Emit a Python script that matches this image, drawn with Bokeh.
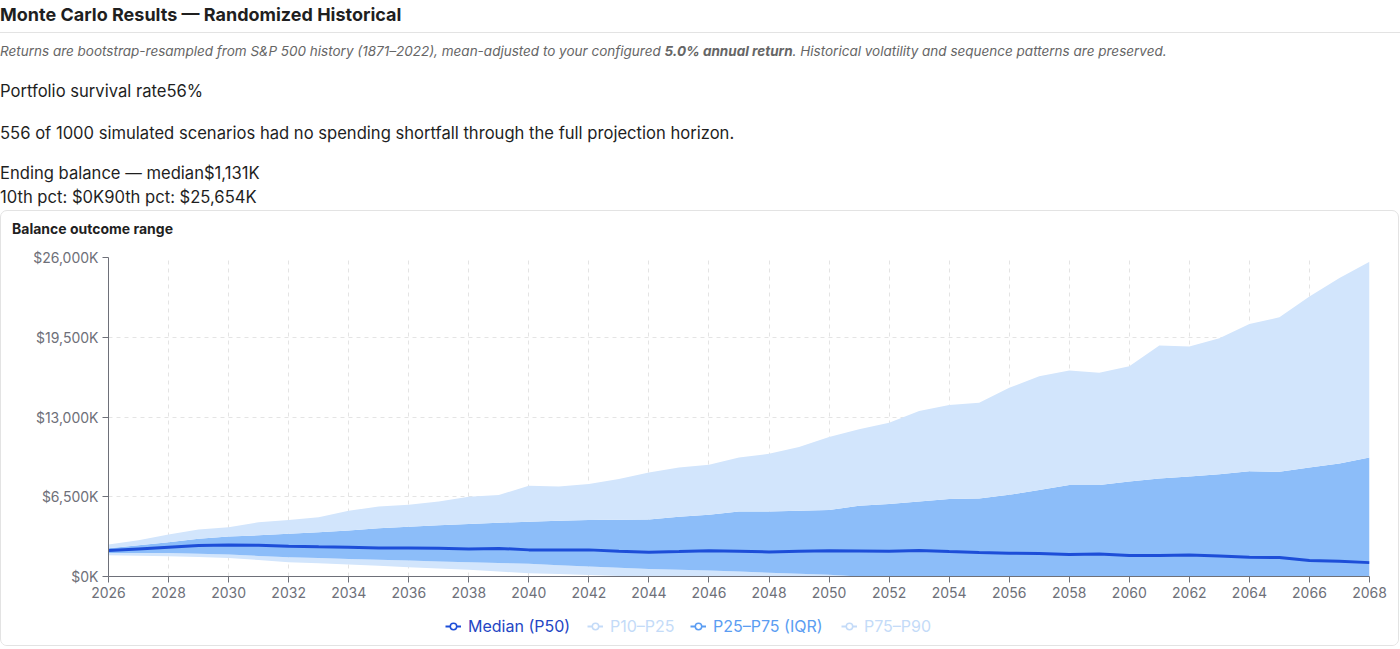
from bokeh.plotting import figure
from bokeh.models import (ColumnDataSource, Div, Legend, LegendItem,
                          FixedTicker, CustomJSTickFormatter, Range1d)
from bokeh.layouts import column
from bokeh.embed import file_html
from bokeh.resources import INLINE

# ---------------- data (values in $K) ----------------
years = list(range(2026, 2069))
p10 = [1733, 1690, 1650, 1580, 1515, 1340, 1165, 1070, 975, 870, 760, 650, 540, 400,
       270, 200, 120, 50, 0, 0, 0, 0, 0, 0, 0, 0, 0, 0, 0, 0, 0, 0, 0, 0, 0, 0, 0, 0,
       0, 0, 0, 0, 0]
p25 = [1925, 1925, 1925, 1860, 1790, 1680, 1570, 1500, 1435, 1370, 1300, 1230, 1165,
       1100, 1030, 920, 810, 715, 620, 555, 490, 400, 300, 220, 135, 0, 0, 0, 0, 0, 0,
       0, 0, 0, 0, 0, 0, 0, 0, 0, 0, 0, 0]
p50 = [2112, 2250, 2385, 2520, 2575, 2550, 2465, 2420, 2385, 2330, 2330, 2300, 2250,
       2290, 2170, 2170, 2170, 2060, 1975, 2030, 2090, 2050, 2005, 2060, 2090, 2080,
       2060, 2110, 2030, 1960, 1895, 1880, 1790, 1840, 1705, 1720, 1760, 1680, 1570,
       1545, 1300, 1245, 1131]
p75 = [2300, 2550, 2790, 3070, 3260, 3360, 3480, 3600, 3750, 3940, 4060, 4170, 4280,
       4380, 4470, 4540, 4600, 4630, 4655, 4875, 5040, 5305, 5305, 5360, 5415, 5770,
       5900, 6120, 6310, 6360, 6660, 7040, 7450, 7450, 7745, 7990, 8150, 8340, 8585,
       8530, 8880, 9200, 9695]
p90 = [2600, 2950, 3420, 3830, 4015, 4420, 4610, 4830, 5350, 5715, 5850, 6120, 6500,
       6640, 7390, 7340, 7530, 7940, 8475, 8880, 9100, 9695, 10000, 10560, 11375, 12000,
       12540, 13490, 13975, 14165, 15380, 16330, 16790, 16600, 17140, 18820, 18740,
       19420, 20580, 21125, 22830, 24320, 25654]
y_ticks = [0, 6500, 13000, 19500, 26000]
x_ticks = list(range(2026, 2069, 2))
legend_labels = ["Median (P50)", "P10\u2013P25", "P25\u2013P75 (IQR)", "P75\u2013P90"]

FONT = "Inter"
LIGHT = "#d2e5fc"
MID = "#8cbdf9"
DARK = "#1d4ed8"
AXIS = "#6e7079"

src = ColumnDataSource(dict(year=years, p10=p10, p25=p25, p50=p50, p75=p75, p90=p90))

# ---------------- header ----------------
def line(top, html, style, left=0):
    return (f'<div style="position:absolute;left:{left}px;top:{top}px;line-height:20px;'
            f'white-space:nowrap;{style}">{html}</div>')

header_html = (
    f'<div style="position:relative;width:1400px;height:210px;font-family:{FONT},sans-serif;color:#1f1f1f;">'
    + line(5, "Monte Carlo Results \u2014 Randomized Historical", "font-size:18px;font-weight:700;")
    + '<div style="position:absolute;left:0;top:32px;width:1400px;height:1px;background:#e3e3e3;"></div>'
    + line(41, 'Returns are bootstrap-resampled from S&amp;P 500 history (1871\u20132022), mean-adjusted to your configured '
               '<b>5.0% annual return</b>. Historical volatility and sequence patterns are preserved.',
           "font-size:13.5px;font-style:italic;color:#666;")
    + line(81, "Portfolio survival rate56%", "font-size:16.6px;")
    + line(123, "556 of 1000 simulated scenarios had no spending shortfall through the full projection horizon.",
           "font-size:16.6px;")
    + line(163, "Ending balance \u2014 median$1,131K", "font-size:16.6px;")
    + line(187, "10th pct: $0K90th pct: $25,654K", "font-size:16.6px;")
    + '</div>'
)
header = Div(text=header_html, width=1400, height=210, margin=(0, 0, 0, 0))

card_title = Div(
    text=(f'<div style="position:relative;width:1397px;height:36px;font-family:{FONT},sans-serif;">'
          + line(8, "Balance outcome range", "font-size:14px;font-weight:700;color:#1f1f1f;", left=11)
          + '</div>'),
    width=1397, height=36, margin=(0, 0, 0, 0))

# ---------------- chart ----------------
p = figure(width=1397, height=359, output_backend="svg", toolbar_location=None,
           x_range=Range1d(2026, 2068), y_range=Range1d(0, 26000),
           min_border_left=107, min_border_right=29, min_border_top=10, min_border_bottom=30,
           background_fill_color="white", border_fill_color="white", margin=(0, 0, 0, 0))
p.outline_line_color = None

p.varea(x="year", y1="p10", y2="p25", source=src, fill_color=LIGHT)
p.varea(x="year", y1="p25", y2="p75", source=src, fill_color=MID)
p.varea(x="year", y1="p75", y2="p90", source=src, fill_color=LIGHT)
p.line(x="year", y="p50", source=src, line_color=DARK, line_width=3)

for ax in (p.xaxis[0], p.yaxis[0]):
    ax.axis_line_color = AXIS
    ax.major_tick_line_color = AXIS
    ax.major_tick_out = 6
    ax.major_tick_in = 0
    ax.minor_tick_line_color = None
    ax.major_label_text_color = AXIS
    ax.major_label_text_font = FONT
    ax.major_label_text_font_size = "14px"

p.xaxis.ticker = FixedTicker(ticks=x_ticks)
p.xaxis.major_label_standoff = 4
p.yaxis.ticker = FixedTicker(ticks=y_ticks)
p.yaxis.major_label_standoff = 4
p.yaxis.formatter = CustomJSTickFormatter(
    code='return "$" + Math.round(tick).toLocaleString("en-US") + "K";')

p.xgrid.ticker = FixedTicker(ticks=x_ticks)
for g in (p.xgrid[0], p.ygrid[0]):
    g.grid_line_color = "#e4e4e4"
    g.grid_line_dash = "4 4"

# ---------------- legend strip ----------------
# The strip's view range excludes the data, so only the legend icons show.
lp = figure(width=1397, height=39, output_backend="svg", toolbar_location=None,
            x_range=Range1d(0, 1), y_range=Range1d(0, 1),
            min_border_left=0, min_border_right=0, min_border_top=0, min_border_bottom=0,
            margin=(0, 0, 0, 0), border_fill_color="white")
lp.axis.visible = False
lp.grid.visible = False
lp.outline_line_color = None

leg_colors = [DARK, "#c4dbf8", "#5b9df2", "#c4dbf8"]
leg_text = ["#2446c4", "#c4dbf8", "#5b9df2", "#c4dbf8"]
leg_x = [337, 479, 582, 733]
for lab, c, tc, lx in zip(legend_labels, leg_colors, leg_text, leg_x):
    r1 = lp.line("year", "p50", source=src, line_color=c, line_width=2)
    r2 = lp.scatter("year", "p50", source=src, size=7, marker="circle",
                    fill_color="white", line_color=c, line_width=1.5)
    lg = Legend(items=[LegendItem(label=lab, renderers=[r1, r2], index=0)],
                location=(lx, 9), orientation="horizontal",
                background_fill_alpha=0, border_line_alpha=0, padding=0, margin=0,
                glyph_width=16, glyph_height=16, label_standoff=7,
                label_text_font=FONT, label_text_font_size="16px",
                label_text_color=tc, label_height=20)
    lp.add_layout(lg, "center")

card = column(card_title, p, lp, spacing=0, margin=(0, 0, 0, 0),
              styles={"border": "1px solid #e3e3e3", "border-radius": "7px",
                      "overflow": "hidden"})
layout = column(header, card, spacing=0, margin=(0, 0, 0, 0))
open("out.html", "w").write(file_html(layout, INLINE))
